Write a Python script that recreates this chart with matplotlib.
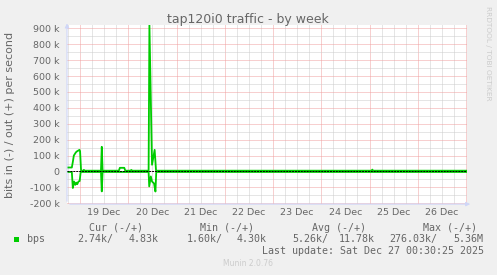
import matplotlib
matplotlib.use("Agg")
import matplotlib.pyplot as plt
from matplotlib.patches import Rectangle

# hours relative to Dec 19 00:00, values in k bits/s
out_hours = [-6.1, -4.1, -3.6, -3.1, -2.1, -1.6, -0.8, -0.3, 0.0, 0.5, 1.5, 1.9, 2.4,
             10.4, 10.8, 11.2, 19.3, 19.8, 22.0, 22.5, 25.2, 25.5, 25.8,
             34.1, 34.5, 35.8, 37.1, 37.8, 145.0, 145.4, 145.8, 192.5]
out_k = [25, 25, 60, 100, 120, 126, 132, 136, 128, 5, 5, 10, 5,
         5, 155, 5, 5, 23, 23, 5, 5, 10, 5,
         5, 925, 42, 136, 5, 5, 12, 5, 5]

in_hours = [-6.1, -4.1, -3.6, -3.0, -2.4, -1.9, -1.4, -0.8, -0.2, 0.3,
            10.4, 10.8, 11.2, 34.1, 34.4, 35.2, 35.8, 36.8, 37.5, 37.9, 192.5]
in_k = [-3, -3, -104, -63, -84, -70, -80, -63, -60, -3,
        -3, -125, -3, -3, -94, -31, -63, -75, -126, -3, -3]

day_labels = ["19 Dec", "20 Dec", "21 Dec", "22 Dec", "23 Dec", "24 Dec", "25 Dec", "26 Dec"]
ytick_vals = [-200, -100, 0, 100, 200, 300, 400, 500, 600, 700, 800, 900]
ytick_labels = ["-200 k", "-100 k", "0", "100 k", "200 k", "300 k", "400 k",
                "500 k", "600 k", "700 k", "800 k", "900 k"]

FONT = "#666666"
W, H = 497, 275

def fx(px):
    return px / W

def fy(py):
    return 1 - py / H

fig = plt.figure(figsize=(4.97, 2.75), dpi=100, facecolor="#f0f0f0")
ax = fig.add_axes([fx(67), fy(204.1), 400 / W, (204.1 - 25.1) / H])
ax.set_facecolor("white")
ax.set_xlim(-6.5, 192.5)
ax.set_ylim(-205, 920)

# grid
for h in range(-6, 193, 6):
    if h % 24 == 0:
        ax.axvline(h, color="#f0a0a0", lw=0.72, ls=(0, (1, 1)), zorder=1)
    else:
        ax.axvline(h, color="#cccccc", lw=0.72, ls=(0, (1, 1)), zorder=1)
for v in range(-200, 901, 50):
    if v % 100 == 0:
        ax.axhline(v, color="#f0a0a0", lw=0.72, ls=(0, (1, 1)), zorder=1)
    else:
        ax.axhline(v, color="#cccccc", lw=0.72, ls=(0, (1, 1)), zorder=1)

ax.plot(in_hours, in_k, color="#00cc00", lw=1.3, zorder=3)
ax.plot(out_hours, out_k, color="#00cc00", lw=1.3, zorder=3)
ax.axhline(0, color="black", lw=0.7, ls=(0, (2, 1)), zorder=4)

for s in ax.spines.values():
    s.set_visible(False)
ax.annotate("", xy=(0, 1.025), xytext=(0, 0), xycoords="axes fraction",
            arrowprops=dict(arrowstyle="-|>", color="#cfd6f8", lw=0.8, mutation_scale=6))
ax.annotate("", xy=(1.015, 0), xytext=(0, 0), xycoords="axes fraction",
            arrowprops=dict(arrowstyle="-|>", color="#cfd6f8", lw=0.8, mutation_scale=6))

ax.set_xticks([12 + 24 * i for i in range(len(day_labels))])
ax.set_xticklabels(day_labels)
ax.set_yticks(ytick_vals)
ax.set_yticklabels(ytick_labels)
ax.tick_params(axis="both", length=0, labelsize=6.8, labelcolor=FONT)
ax.tick_params(axis="y", pad=5.4)
ax.tick_params(axis="x", pad=2.5)

fig.text(fx(10.5), fy(115), "bits in (-) / out (+) per second", fontsize=8, color=FONT,
         rotation=90, ha="center", va="center")

fig.text(fx(248), fy(19.5), "tap120i0 traffic - by week", fontsize=9, color=FONT,
         ha="center", va="center")
fig.text(fx(488), fy(53), "RRDTOOL / TOBI OETIKER", fontsize=5.3, color="#cccccc",
         rotation=-90, ha="center", va="center")

mono = dict(family="DejaVu Sans Mono", fontsize=7.2, color=FONT, va="center")
fig.text(fx(116), fy(227.7), "Cur (-/+)", ha="center", **mono)
fig.text(fx(227), fy(227.7), "Min (-/+)", ha="center", **mono)
fig.text(fx(339), fy(227.7), "Avg (-/+)", ha="center", **mono)
fig.text(fx(450), fy(227.7), "Max (-/+)", ha="center", **mono)

fig.add_artist(Rectangle((fx(14), fy(242)), 5 / W, 5 / H, transform=fig.transFigure,
                         facecolor="#00cc00", edgecolor="none"))
fig.text(fx(27), fy(239), "bps", ha="left", **mono)
values = [("2.74k/", 113.5), ("4.83k", 158.5), ("1.60k/", 222.5), ("4.30k", 266.5),
          ("5.26k/", 328.5), ("11.78k", 374.5), ("276.03k/", 437.5), ("5.36M", 483.5)]
for txt, xr in values:
    fig.text(fx(xr), fy(239), txt, ha="right", **mono)

fig.text(fx(483.5), fy(251.5), "Last update: Sat Dec 27 00:30:25 2025", ha="right", **mono)
fig.text(fx(248), fy(264), "Munin 2.0.76", fontsize=5.5, color="#cccccc",
         ha="center", va="center")

fig.savefig("out.png", dpi=100, facecolor=fig.get_facecolor())
